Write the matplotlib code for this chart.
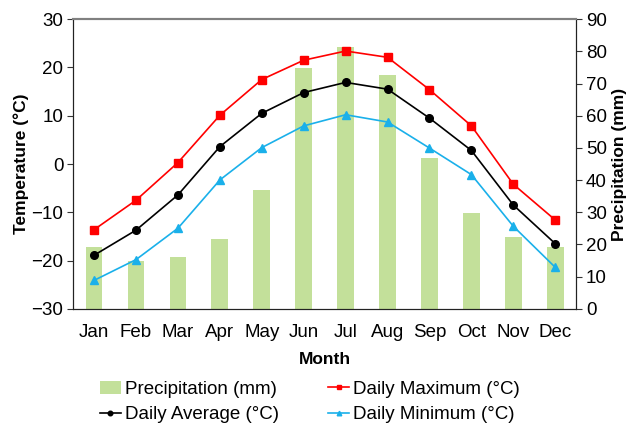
import matplotlib
matplotlib.use("Agg")
import matplotlib.pyplot as plt
import numpy as np

plt.rcParams['font.family'] = ['Liberation Sans', 'DejaVu Sans']

# datos
meses = ["Jan", "Feb", "Mar", "Apr", "May", "Jun", "Jul", "Aug", "Sep", "Oct", "Nov", "Dec"]
precipitacion = [19.1, 14.9, 16.0, 21.7, 36.9, 74.8, 81.5, 72.7, 46.9, 29.7, 22.3, 19.2]
t_max = [-13.6, -7.5, 0.3, 10.1, 17.5, 21.5, 23.4, 22.1, 15.4, 7.9, -4.2, -11.6]
t_media = [-18.9, -13.7, -6.4, 3.6, 10.5, 14.8, 16.9, 15.5, 9.5, 2.8, -8.5, -16.5]
t_min = [-24.1, -19.8, -13.3, -3.3, 3.4, 7.9, 10.2, 8.7, 3.3, -2.2, -12.9, -21.4]

x = np.arange(len(meses))

fig = plt.figure(figsize=(6.36, 4.26), dpi=100)
ax = fig.add_axes([0.115, 0.275, 0.791, 0.68])
ax2 = ax.twinx()

# barras de precipitacion en el eje derecho
barras = ax2.bar(x, precipitacion, width=0.4, color="#C3E09A", label="Precipitation (mm)", zorder=1)
ax2.set_ylim(0, 90)
ax2.set_yticks(range(0, 91, 10))
ax2.set_ylabel("Precipitation (mm)", fontsize=12.5, fontweight="bold", labelpad=4)

# las lineas van delante de las barras
ax.set_zorder(ax2.get_zorder() + 1)
ax.patch.set_visible(False)

l1, = ax.plot(x, t_max, color="#FF0000", marker="s", markersize=5.5, lw=1.2, label="Daily Maximum (°C)")
l2, = ax.plot(x, t_media, color="#000000", marker="o", markersize=5.5, lw=1.2, label="Daily Average (°C)")
l3, = ax.plot(x, t_min, color="#1AB0EA", marker="^", markersize=5.5, lw=1.2, label="Daily Minimum (°C)")

ax.set_ylim(-30, 30)
ax.set_yticks(range(-30, 31, 10))
ax.set_xlim(-0.5, 11.5)
ax.set_xticks(x)
ax.set_xticklabels(meses)
ax.set_ylabel("Temperature (°C)", fontsize=12.5, fontweight="bold", labelpad=2)
ax.set_xlabel("Month", fontsize=12.5, fontweight="bold", labelpad=8)

for a in (ax, ax2):
    a.tick_params(labelsize=13.5, length=4, width=0.8, color="#333333", pad=3)
ax.tick_params(axis="x", length=0, pad=11)

for a in (ax, ax2):
    a.spines["top"].set_color("#808080")
    a.spines["top"].set_linewidth(1.5)
    a.spines["left"].set_color("#222222")
    a.spines["right"].set_color("#222222")
    a.spines["bottom"].set_color("#222222")

# orden por filas como en la referencia
fig.legend(handles=[barras, l2, l1, l3], loc="center", bbox_to_anchor=(0.487, 0.056),
           ncol=2, frameon=False, fontsize=13.5, handlelength=1.15, handletextpad=0.2,
           columnspacing=2.6, labelspacing=0.45, markerscale=0.6)

fig.savefig("out.png", dpi=100)
